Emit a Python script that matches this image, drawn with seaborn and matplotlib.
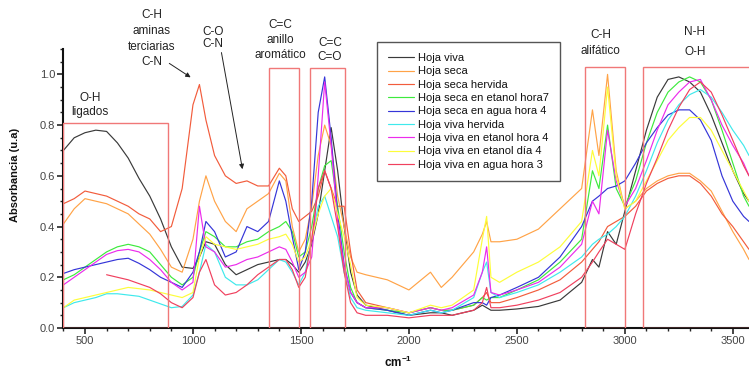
import numpy as np
import pandas as pd
import seaborn as sns
import matplotlib.pyplot as plt
from matplotlib.patches import Rectangle
from matplotlib.ticker import MultipleLocator

# wavenumber grid (cm-1) shared by every spectrum
wavenumber = [400, 450, 500, 550, 600, 650, 700, 750, 800, 850, 900, 950, 1000,
              1030, 1060, 1100, 1150, 1200, 1250, 1300, 1350, 1400,
              1430, 1460, 1490, 1520, 1550, 1580, 1610, 1640, 1670, 1700, 1730, 1760,
              1800, 1900, 2000, 2100, 2150, 2200,
              2300, 2340, 2360, 2380, 2420,
              2500, 2600, 2700, 2800,
              2850, 2880, 2920, 2960, 3000,
              3050, 3100, 3150, 3200, 3250, 3300, 3350, 3400, 3450, 3500, 3550, 3575]

hoja_viva = [0.70, 0.75, 0.77, 0.78, 0.775, 0.73, 0.67, 0.59, 0.52, 0.43, 0.32, 0.24, 0.235,
             0.28, 0.34, 0.33, 0.25, 0.21, 0.23, 0.25, 0.26, 0.27,
             0.27, 0.25, 0.22, 0.26, 0.33, 0.45, 0.62, 0.79, 0.62, 0.40, 0.22, 0.13,
             0.09, 0.07, 0.05, 0.06, 0.06, 0.05,
             0.07, 0.09, 0.08, 0.07, 0.07,
             0.075, 0.085, 0.11, 0.18,
             0.27, 0.24, 0.38, 0.33, 0.46,
             0.62, 0.78, 0.91, 0.98, 0.99, 0.97, 0.93, 0.84, 0.73, 0.62, 0.53, 0.50]

hoja_seca = [0.41, 0.47, 0.51, 0.50, 0.49, 0.47, 0.45, 0.41, 0.37, 0.31, 0.24, 0.22, 0.35,
             0.50, 0.60, 0.50, 0.42, 0.38, 0.47, 0.50, 0.53, 0.61,
             0.58, 0.40, 0.30, 0.35, 0.48, 0.68, 0.80, 0.72, 0.52, 0.40, 0.28, 0.22,
             0.21, 0.19, 0.15, 0.22, 0.16, 0.20,
             0.30, 0.37, 0.42, 0.34, 0.34,
             0.35, 0.39, 0.47, 0.55,
             0.86, 0.68, 1.00, 0.62, 0.47,
             0.50, 0.55, 0.58, 0.60, 0.61, 0.61, 0.58, 0.54, 0.46, 0.38, 0.31, 0.27]

seca_hervida = [0.49, 0.51, 0.54, 0.53, 0.52, 0.50, 0.48, 0.45, 0.43, 0.38, 0.40, 0.55, 0.88,
                0.96, 0.82, 0.68, 0.60, 0.57, 0.58, 0.56, 0.56, 0.63,
                0.60, 0.47, 0.42, 0.44, 0.46, 0.52, 0.62, 0.55, 0.48, 0.48, 0.30, 0.15,
                0.10, 0.08, 0.06, 0.08, 0.07, 0.07,
                0.09, 0.12, 0.14, 0.10, 0.10,
                0.12, 0.15, 0.19, 0.26,
                0.31, 0.34, 0.40, 0.42, 0.44,
                0.48, 0.54, 0.57, 0.59, 0.60, 0.60, 0.57, 0.52, 0.45, 0.40, 0.34, 0.31]

seca_etanol_h7 = [0.19, 0.21, 0.24, 0.27, 0.30, 0.32, 0.33, 0.32, 0.30, 0.25, 0.20, 0.17, 0.20,
                  0.30, 0.38, 0.36, 0.32, 0.32, 0.34, 0.35, 0.38, 0.40,
                  0.42, 0.38, 0.28, 0.30, 0.40, 0.55, 0.64, 0.66, 0.48, 0.30, 0.16, 0.10,
                  0.08, 0.07, 0.06, 0.08, 0.07, 0.07,
                  0.09, 0.12, 0.11, 0.12, 0.12,
                  0.15, 0.19, 0.26, 0.35,
                  0.62, 0.55, 0.80, 0.55, 0.48,
                  0.58, 0.73, 0.85, 0.93, 0.97, 0.99, 0.97, 0.90, 0.78, 0.65, 0.52, 0.48]

seca_agua_h4 = [0.215, 0.23, 0.24, 0.25, 0.26, 0.27, 0.275, 0.255, 0.23, 0.20, 0.18, 0.16, 0.22,
                0.30, 0.42, 0.38, 0.28, 0.30, 0.40, 0.38, 0.42, 0.58,
                0.50, 0.36, 0.23, 0.30, 0.50, 0.85, 0.99, 0.75, 0.45, 0.25, 0.14, 0.10,
                0.08, 0.07, 0.05, 0.07, 0.06, 0.07,
                0.10, 0.10, 0.09, 0.12, 0.13,
                0.16, 0.20, 0.28, 0.40,
                0.50, 0.52, 0.55, 0.56, 0.58,
                0.65, 0.73, 0.79, 0.84, 0.86, 0.86, 0.82, 0.74, 0.60, 0.50, 0.44, 0.42]

viva_hervida = [0.08, 0.10, 0.11, 0.12, 0.135, 0.135, 0.13, 0.125, 0.11, 0.095, 0.08, 0.085, 0.13,
                0.22, 0.33, 0.30, 0.20, 0.17, 0.17, 0.19, 0.23, 0.27,
                0.26, 0.22, 0.17, 0.22, 0.35, 0.48, 0.52, 0.44, 0.36, 0.22, 0.12, 0.08,
                0.07, 0.06, 0.05, 0.07, 0.06, 0.07,
                0.12, 0.22, 0.26, 0.14, 0.12,
                0.14, 0.17, 0.22, 0.28,
                0.33, 0.35, 0.37, 0.40, 0.44,
                0.52, 0.62, 0.73, 0.82, 0.88, 0.92, 0.94, 0.91, 0.85, 0.78, 0.72, 0.68]

viva_etanol_h4 = [0.17, 0.20, 0.23, 0.26, 0.29, 0.305, 0.31, 0.30, 0.27, 0.23, 0.18, 0.15, 0.18,
                  0.48, 0.32, 0.30, 0.24, 0.25, 0.27, 0.28, 0.30, 0.32,
                  0.31, 0.26, 0.20, 0.22, 0.28, 0.60, 0.97, 0.72, 0.42, 0.24, 0.14, 0.10,
                  0.08, 0.08, 0.06, 0.08, 0.07, 0.08,
                  0.13, 0.22, 0.32, 0.14, 0.13,
                  0.15, 0.18, 0.24, 0.33,
                  0.50, 0.45, 0.78, 0.58, 0.48,
                  0.55, 0.66, 0.78, 0.88, 0.93, 0.97, 0.98, 0.90, 0.80, 0.72, 0.65, 0.60]

viva_etanol_d4 = [0.08, 0.11, 0.12, 0.13, 0.14, 0.15, 0.16, 0.155, 0.15, 0.14, 0.13, 0.12, 0.14,
                  0.28, 0.36, 0.33, 0.32, 0.31, 0.32, 0.33, 0.35, 0.36,
                  0.37, 0.33, 0.26, 0.28, 0.35, 0.45, 0.52, 0.55, 0.45, 0.36, 0.25, 0.12,
                  0.09, 0.08, 0.06, 0.09, 0.08, 0.09,
                  0.15, 0.35, 0.44, 0.20, 0.18,
                  0.22, 0.26, 0.32, 0.42,
                  0.70, 0.60, 0.95, 0.60, 0.47,
                  0.50, 0.58, 0.66, 0.74, 0.79, 0.83, 0.83, 0.78, 0.70, 0.62, 0.54, 0.50]

viva_agua_h3 = [np.nan, np.nan, np.nan, np.nan, 0.21, 0.20, 0.19, 0.175, 0.16, 0.135, 0.10, 0.08, 0.12,
                0.22, 0.27, 0.17, 0.13, 0.14, 0.17, 0.21, 0.24, 0.27,
                0.27, 0.23, 0.16, 0.20, 0.35, 0.55, 0.62, 0.55, 0.40, 0.22, 0.10, 0.06,
                0.05, 0.05, 0.04, 0.05, 0.05, 0.05,
                0.07, 0.10, 0.16, 0.08, 0.08,
                0.09, 0.11, 0.14, 0.20,
                0.26, 0.30, 0.35, 0.33, 0.31,
                0.45, 0.57, 0.67, 0.78, 0.87, 0.94, 0.97, 0.93, 0.84, 0.74, 0.64, 0.60]

series = {
    'Hoja viva': hoja_viva,
    'Hoja seca': hoja_seca,
    'Hoja seca hervida': seca_hervida,
    'Hoja seca en etanol hora7': seca_etanol_h7,
    'Hoja seca en agua hora 4': seca_agua_h4,
    'Hoja viva hervida': viva_hervida,
    'Hoja viva en etanol hora 4': viva_etanol_h4,
    'Hoja viva en etanol día 4': viva_etanol_d4,
    'Hoja viva en agua hora 3': viva_agua_h3,
}

palette = {
    'Hoja viva': '#3a3a3a',
    'Hoja seca': '#ffa347',
    'Hoja seca hervida': '#f25c3c',
    'Hoja seca en etanol hora7': '#3dea3d',
    'Hoja seca en agua hora 4': '#3535d8',
    'Hoja viva hervida': '#3fe9ec',
    'Hoja viva en etanol hora 4': '#ec2cec',
    'Hoja viva en etanol día 4': '#fdfd3a',
    'Hoja viva en agua hora 3': '#f0405e',
}

frames = []
for name, vals in series.items():
    frames.append(pd.DataFrame({'wavenumber': wavenumber, 'absorbance': vals, 'muestra': name}))
df = pd.concat(frames, ignore_index=True).dropna()

sns.set_style('ticks')
plt.rcParams['font.family'] = ['Liberation Sans', 'DejaVu Sans']
plt.rcParams['mathtext.default'] = 'regular'

W, H = 749, 371
fig = plt.figure(figsize=(W / 100, H / 100), dpi=100)
ax = fig.add_axes([63.4 / W, 43 / H, (W - 63.4) / W, 279 / H])

sns.lineplot(data=df, x='wavenumber', y='absorbance', hue='muestra', palette=palette,
             estimator=None, sort=False, linewidth=0.85, ax=ax)

ax.set_xlim(400, 3575)
ax.set_ylim(0, 1.1)
ax.xaxis.set_major_locator(MultipleLocator(500))
ax.xaxis.set_minor_locator(MultipleLocator(100))
ax.yaxis.set_minor_locator(MultipleLocator(0.05))
ax.set_yticks([0.0, 0.2, 0.4, 0.6, 0.8, 1.0])
ax.set_yticklabels(['0.0', '0.2', '0.4', '0.6', '0.8', '1.0'])
ax.tick_params(which='major', length=4, width=1.2, labelsize=8, labelcolor='#444', pad=2)
ax.tick_params(which='minor', length=2.5, width=1)
sns.despine(ax=ax)
for s in ['left', 'bottom']:
    ax.spines[s].set_linewidth(1.5)
    ax.spines[s].set_color('#111')
ax.set_xlabel('')
ax.set_ylabel('')

# red band boxes
box_col = '#f07878'
boxes = [(400, 885, 0.81), (1350, 1490, 1.025), (1540, 1705, 1.025),
         (2815, 3000, 1.03), (3085, 3700, 1.03)]
for x0, x1, top in boxes:
    ax.add_patch(Rectangle((x0, 0), x1 - x0, top, fill=False, edgecolor=box_col,
                           linewidth=1.0, clip_on=True, zorder=3))


def px2data(px, py):
    return (px - 63.4) / 0.216 + 400, (328 - py) / 253.5


labels = [
    ('C-H\naminas\nterciarias\nC-N', 152, 39, 1.4),
    ('C-O\nC-N', 213, 38, 1.0),
    ('C=C\nanillo\naromático', 280, 40, 1.3),
    ('C=C\nC=O', 330, 50, 1.3),
    ('O-H\nligados', 90, 105, 1.3),
    ('C-H\nalifático', 601, 43, 1.45),
    ('N-H\nO-H', 695, 42, 1.9),
]
for txt, px, py, ls in labels:
    x, y = px2data(px, py)
    ax.text(x, y, txt, ha='center', va='center', fontsize=8.5, color='#222',
            linespacing=ls, clip_on=False)

for (tx, ty), (hx, hy) in [((167, 62), (193, 79)), ((221, 50), (243, 172))]:
    ax.annotate('', xy=px2data(hx, hy), xytext=px2data(tx, ty),
                arrowprops=dict(arrowstyle='-|>', color='#222', lw=0.7, mutation_scale=7),
                annotation_clip=False)

handles, labs = ax.get_legend_handles_labels()
leg = ax.legend(handles, labs, loc='upper left', bbox_to_anchor=(377 / W, 1 - 42 / H),
                bbox_transform=fig.transFigure, borderaxespad=0, fontsize=8,
                frameon=True, fancybox=False, framealpha=1, edgecolor='#555',
                handlelength=2.3, handletextpad=0.35, labelspacing=0.3, borderpad=1.0)
leg.get_frame().set_linewidth(1.0)
for t in leg.get_texts():
    t.set_color('#111')

fig.text(15 / W, 1 - 175 / H, 'Absorbancia (u.a)', rotation=90, ha='center', va='center',
         fontsize=8, fontweight='bold', color='#111')
fig.text(398 / W, 1 - 362 / H, 'cm$^{-1}$', ha='center', va='center',
         fontsize=8.5, fontweight='bold', color='#111')

fig.savefig('out.png', dpi=100)
